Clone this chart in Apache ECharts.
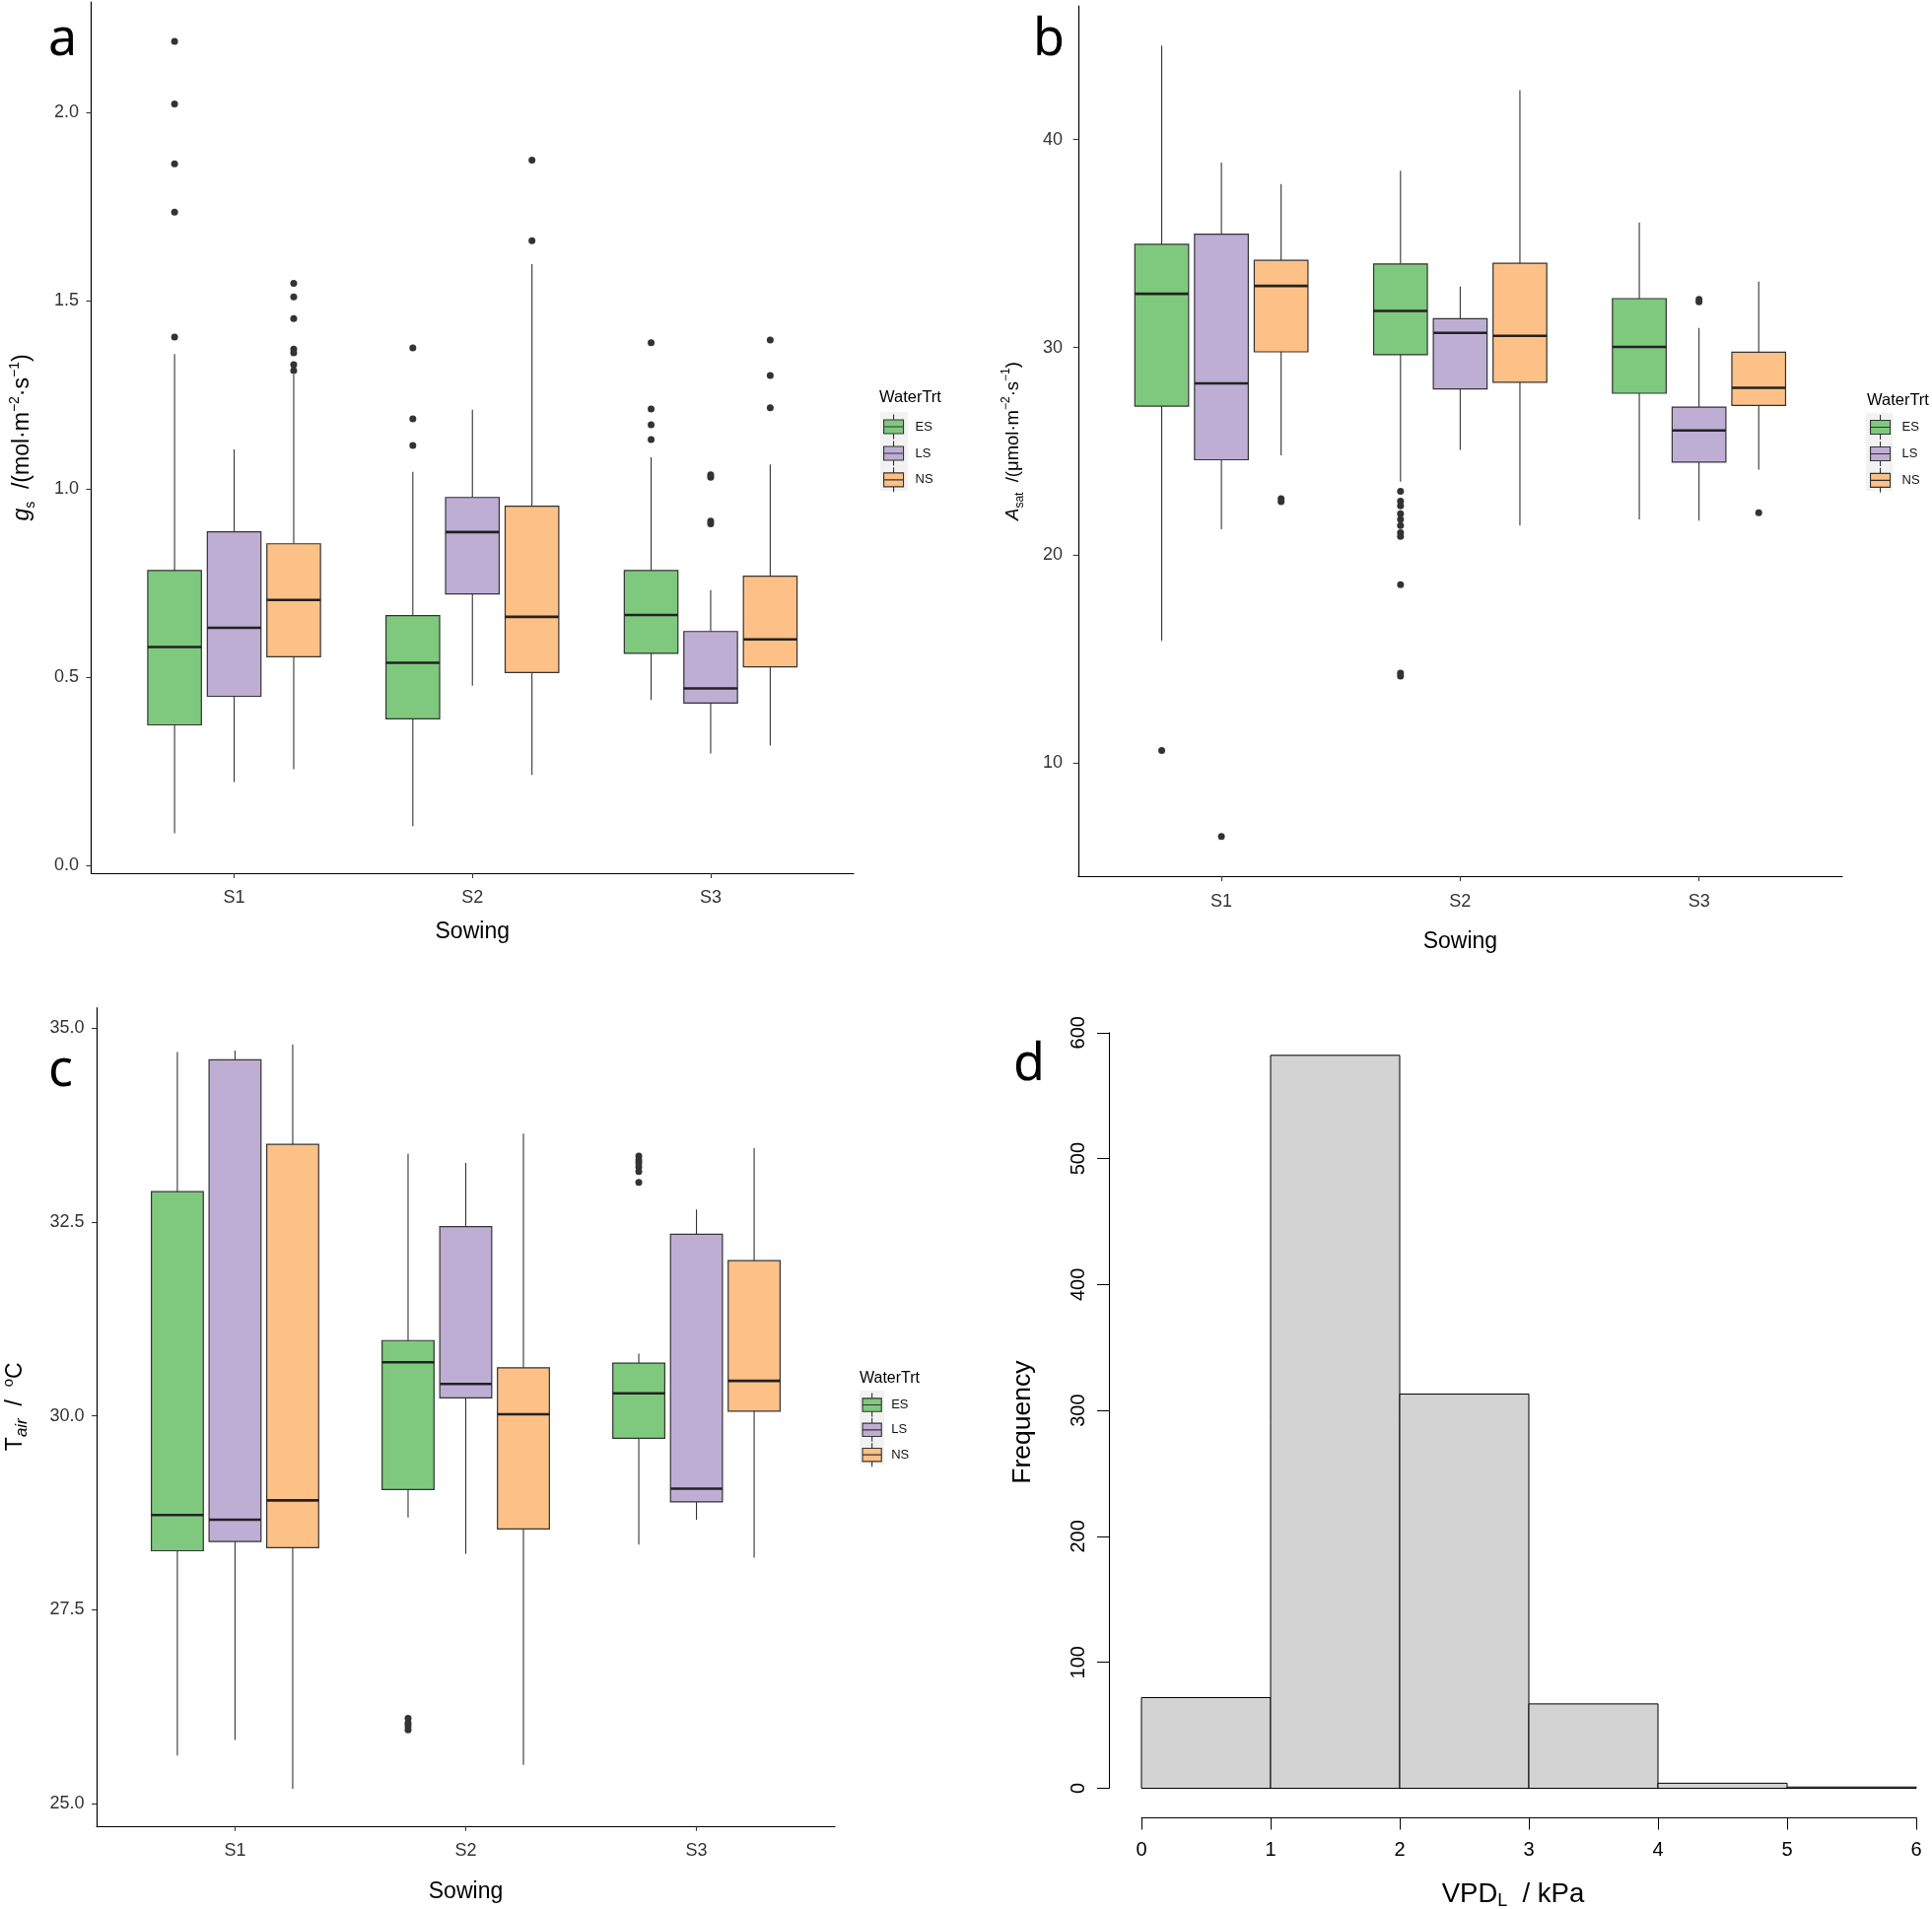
<!DOCTYPE html>
<html><head><meta charset="utf-8">
<script src="https://cdn.jsdelivr.net/npm/echarts@6/dist/echarts.min.js"></script>
<style>html,body{margin:0;padding:0;background:#fff}#c{width:1960px;height:1937px}</style>
</head><body><div id="c"></div>
<script>
// ---------- data ----------
const sowing = ['S1', 'S2', 'S3'];
const waterTrt = ['ES', 'LS', 'NS'];
const trtColors = ['#7FC97F', '#BEAED4', '#FDC086'];

// panel a : g_s  — per sowing [min, q1, median, q3, max]
const gsES = [[0.086, 0.374, 0.581, 0.784, 1.359], [0.105, 0.390, 0.539, 0.664, 1.046], [0.440, 0.564, 0.666, 0.784, 1.085]];
const gsLS = [[0.222, 0.450, 0.632, 0.887, 1.106], [0.478, 0.722, 0.886, 0.978, 1.211], [0.298, 0.432, 0.471, 0.622, 0.732]];
const gsNS = [[0.256, 0.555, 0.706, 0.855, 1.305], [0.241, 0.513, 0.661, 0.955, 1.598], [0.319, 0.528, 0.601, 0.769, 1.066]];
const gsOutES = [[2.189, 2.023, 1.864, 1.736, 1.404], [1.375, 1.187, 1.116], [1.389, 1.213, 1.171, 1.132]];
const gsOutLS = [[], [], [1.038, 1.032, 0.915, 0.908]];
const gsOutNS = [[1.547, 1.511, 1.453, 1.372, 1.362, 1.331, 1.315], [1.874, 1.660], [1.396, 1.302, 1.216]];
const gsTicks = [0, 0.5, 1, 1.5, 2];

// panel b : A_sat
const asatES = [[15.89, 27.18, 32.58, 34.96, 44.52], [23.55, 29.65, 31.76, 34.02, 38.50], [21.73, 27.80, 30.03, 32.35, 36.01]];
const asatLS = [[21.26, 24.60, 28.27, 35.45, 38.89], [25.07, 28.01, 30.70, 31.38, 32.93], [21.67, 24.49, 26.01, 27.13, 30.94]];
const asatNS = [[24.81, 29.79, 32.96, 34.19, 37.86], [21.44, 28.33, 30.56, 34.05, 42.38], [24.13, 27.21, 28.06, 29.77, 33.17]];
const asatOutES = [[10.62], [23.08, 22.61, 22.38, 22.00, 21.73, 21.44, 21.09, 20.91, 18.59, 14.34, 14.19], []];
const asatOutLS = [[6.48], [], [32.32, 32.20]];
const asatOutNS = [[22.73, 22.58], [], [22.05]];
const asatTicks = [10, 20, 30, 40];

// panel c : T_air
const tairES = [[25.62, 28.26, 28.72, 32.89, 34.69], [28.69, 29.05, 30.69, 30.97, 33.38], [28.34, 29.71, 30.29, 30.68, 30.80]];
const tairLS = [[25.82, 28.38, 28.66, 34.59, 34.71], [28.22, 30.23, 30.41, 32.44, 33.26], [28.66, 28.89, 29.06, 32.34, 32.66]];
const tairNS = [[25.19, 28.30, 28.91, 33.50, 34.79], [25.50, 28.54, 30.02, 30.62, 33.64], [28.17, 30.06, 30.45, 32.00, 33.45]];
const tairOutES = [[], [26.10, 26.04, 26.00, 25.95], [33.35, 33.30, 33.26, 33.21, 33.15, 33.01]];
const tairOutLS = [[], [], []];
const tairOutNS = [[], [], []];
const tairTicks = [25, 27.5, 30, 32.5, 35];

// panel d : VPD_L histogram
const vpdEdges = [0, 1, 2, 3, 4, 5, 6];
const vpdCounts = [72, 582, 313, 67, 4, 1];

// ---------- layout / style ----------
const FONT = '"Liberation Sans", Arial, sans-serif';
const DODGE = 0.25, HALF = 0.1125;
const STROKE = '#333';
const LEGEND_ICON = 'path://M10,0L10,5.5M0,5.5L20,5.5L20,19.5L0,19.5ZM0,12.5L20,12.5M10,19.5L10,25';

function boxRender(params, api) {
  const xc = api.value(0) + 1 + (api.value(1) - 1) * DODGE;
  const vMin = api.value(2), q1 = api.value(3), med = api.value(4), q3 = api.value(5), vMax = api.value(6);
  const pTop = api.coord([xc, vMax]), pQ3 = api.coord([xc, q3]);
  const pQ1 = api.coord([xc, q1]), pBot = api.coord([xc, vMin]);
  const tl = api.coord([xc - HALF, q3]), br = api.coord([xc + HALF, q1]);
  const pMed = api.coord([xc, med]);
  return {
    type: 'group', children: [
      {type: 'line', shape: {x1: pTop[0], y1: pTop[1], x2: pQ3[0], y2: pQ3[1]}, style: {stroke: STROKE, lineWidth: 1.1}},
      {type: 'line', shape: {x1: pQ1[0], y1: pQ1[1], x2: pBot[0], y2: pBot[1]}, style: {stroke: STROKE, lineWidth: 1.1}},
      {type: 'rect', shape: {x: tl[0], y: tl[1], width: br[0] - tl[0], height: br[1] - tl[1]},
        style: {fill: api.visual('color'), stroke: STROKE, lineWidth: 1.2}},
      {type: 'line', shape: {x1: tl[0], y1: pMed[1], x2: br[0], y2: pMed[1]}, style: {stroke: '#222', lineWidth: 2.6}}
    ]
  };
}

function boxSeries(gIdx, stats, axisIdx) {
  return {
    type: 'custom', name: waterTrt[gIdx], xAxisIndex: axisIdx, yAxisIndex: axisIdx,
    itemStyle: {color: trtColors[gIdx]},
    data: stats.map((s, i) => [i, gIdx].concat(s)),
    encode: {x: 0, y: 4},
    renderItem: boxRender, z: 2
  };
}

function outlierSeries(outs, axisIdx) {
  const data = [];
  outs.forEach((grp, g) => grp.forEach((vals, i) => vals.forEach(v => data.push([i + 1 + (g - 1) * DODGE, v]))));
  return {
    type: 'scatter', name: 'outliers', xAxisIndex: axisIdx, yAxisIndex: axisIdx,
    symbolSize: 7, itemStyle: {color: STROKE, opacity: 1}, data, z: 3
  };
}

function boxX(gridIndex, labelMargin, nameGap) {
  return {
    type: 'value', gridIndex, min: 0.4, max: 3.6,
    axisLine: {show: true, onZero: false, lineStyle: {color: '#000', width: 1.2}},
    axisTick: {show: true, customValues: [1, 2, 3], length: 5, lineStyle: {color: STROKE, width: 1.1}},
    axisLabel: {customValues: [1, 2, 3], formatter: v => sowing[Math.round(v) - 1],
      fontSize: 18, color: STROKE, fontFamily: FONT, margin: labelMargin},
    splitLine: {show: false},
    name: 'Sowing', nameLocation: 'middle', nameGap,
    nameTextStyle: {fontSize: 23, color: '#000', fontFamily: FONT}
  };
}

function richName(base, sub, sup) {
  return {
    it: {fontStyle: 'italic', fontSize: base, fontFamily: FONT, color: '#000'},
    sub: {fontSize: sub, fontFamily: FONT, color: '#000', verticalAlign: 'bottom', lineHeight: sub},
    subi: {fontSize: sub, fontStyle: 'italic', fontFamily: FONT, color: '#000', verticalAlign: 'bottom', lineHeight: sub},
    sup: {fontSize: sup, fontFamily: FONT, color: '#000', verticalAlign: 'top', lineHeight: sup}
  };
}

function boxY(gridIndex, min, max, ticks, fmt, labelMargin, name, nameGap, nameSize, lineH, rich, pad) {
  return {
    type: 'value', gridIndex, min, max,
    axisLine: {show: true, onZero: false, lineStyle: {color: '#000', width: 1.2}},
    axisTick: {show: true, customValues: ticks, length: 5, lineStyle: {color: STROKE, width: 1.1}},
    axisLabel: {customValues: ticks, formatter: fmt, fontSize: 18, color: STROKE, fontFamily: FONT, margin: labelMargin},
    splitLine: {show: false},
    name, nameLocation: 'middle', nameGap, nameRotate: 90,
    nameTextStyle: {fontSize: nameSize, color: '#000', fontFamily: FONT, lineHeight: lineH, rich, padding: pad || 0}
  };
}

function legendAt(left, top, itemHeight, itemGap, padLeft) {
  return {
    orient: 'vertical', left, top, padding: 0, itemWidth: 20, itemHeight, itemGap,
    icon: LEGEND_ICON, data: waterTrt,
    itemStyle: {borderColor: STROKE, borderWidth: 1.1},
    textStyle: {fontSize: 13, color: '#111', fontFamily: FONT, padding: [0, 0, 0, padLeft]},
    selectedMode: false
  };
}

function txt(text, x, y, size, family) {
  return {type: 'text', x, y, z: 10, style: {text, fill: '#000', font: size + 'px ' + family,
    align: 'left', verticalAlign: 'middle', textAlign: 'left', textVerticalAlign: 'middle'}};
}
function bgRect(x, y, w, h) {
  return {type: 'rect', shape: {x, y, width: w, height: h}, style: {fill: '#F2F2F2'}, z: -1};
}

// ---------- chart ----------
const chart = echarts.init(document.getElementById('c'), null, {renderer: 'canvas'});

const histData = vpdCounts.map((c, i) => [vpdEdges[i], vpdEdges[i + 1], c]);
const G = {containLabel: false, outerBoundsMode: 'none'};

const option = {
  animation: false,
  backgroundColor: '#fff',
  grid: [
    Object.assign({left: 92.5, top: 2, width: 773.5, height: 884}, G),
    Object.assign({left: 1093.75, top: 6, width: 775.25, height: 883}, G),
    Object.assign({left: 98, top: 1022.7, width: 749, height: 830.1}, G),
    Object.assign({left: 1158, top: 1047.8, width: 786, height: 766.7}, G)
  ],
  xAxis: [
    boxX(0, 16.5, 48.5),
    boxX(1, 17, 55.5),
    boxX(2, 16, 55.5),
    {
      type: 'value', gridIndex: 3, min: 0, max: 6, interval: 1, offset: 30,
      axisLine: {show: true, onZero: false, lineStyle: {color: '#000', width: 1}},
      axisTick: {show: true, length: 12, lineStyle: {color: '#000', width: 1}},
      axisLabel: {fontSize: 20, color: '#000', fontFamily: FONT, margin: 23},
      splitLine: {show: false},
      name: 'VPD{sub|L}  / kPa', nameLocation: 'middle', nameGap: 62,
      nameTextStyle: {fontSize: 27.5, color: '#000', fontFamily: FONT, lineHeight: 32, padding: [0, 32, 0, 0],
        rich: {sub: {fontSize: 18, fontFamily: FONT, color: '#000', verticalAlign: 'bottom', lineHeight: 17}}}
    }
  ],
  yAxis: [
    boxY(0, -0.0199, 2.294, gsTicks, v => v.toFixed(1), 12.5,
      '{it|g}{sub|s}  /(mol·m{sup|−2}·s{sup|−1})', 54.5, 23, 30, richName(23, 14, 14)),
    boxY(1, 4.57, 46.43, asatTicks, v => String(v), 15.7,
      '{it|A}{sub|sat}  /(μmol·m{sup|−2}·s{sup|−1})', 53, 18.5, 26, richName(18.5, 12, 12)),
    boxY(2, 24.71, 35.26, tairTicks, v => v.toFixed(1), 12.4,
      'T{subi|air}  /  {sup|o}C', 67, 23, 30, richName(23, 17, 15), [0, 0, 0, 21]),
    {
      type: 'value', gridIndex: 3, min: 0, max: 600, interval: 100, offset: 33,
      axisLine: {show: true, onZero: false, lineStyle: {color: '#000', width: 1}},
      axisTick: {show: true, length: 12, lineStyle: {color: '#000', width: 1}},
      axisLabel: {fontSize: 20, color: '#000', fontFamily: FONT, margin: 21, rotate: 90},
      splitLine: {show: false},
      name: 'Frequency', nameLocation: 'middle', nameGap: 73.5, nameRotate: 90,
      nameTextStyle: {fontSize: 26.5, color: '#000', fontFamily: FONT, padding: [0, 24, 0, 0]}
    }
  ],
  legend: [
    legendAt(896, 420, 25, 0.8, 7),
    legendAt(1897, 420.5, 25, 0.8, 7),
    legendAt(874.5, 1413, 24, 0.2, 4.5)
  ],
  graphic: [
    bgRect(893, 418, 28, 80),
    bgRect(1893, 419, 27, 79),
    bgRect(872, 1411, 25, 75),
    txt('WaterTrt', 892, 403, 16.5, FONT),
    txt('WaterTrt', 1894, 406, 16.5, FONT),
    txt('WaterTrt', 872, 1399, 16, FONT),
    txt('a', 49, 41, 52, '"Noto Sans", sans-serif'),
    txt('b', 1048, 41, 52, '"Noto Sans", sans-serif'),
    txt('c', 49, 1087, 52, '"Noto Sans", sans-serif'),
    txt('d', 1028, 1081, 52, '"Noto Sans", sans-serif')
  ],
  series: [
    boxSeries(0, gsES, 0), boxSeries(1, gsLS, 0), boxSeries(2, gsNS, 0),
    outlierSeries([gsOutES, gsOutLS, gsOutNS], 0),
    boxSeries(0, asatES, 1), boxSeries(1, asatLS, 1), boxSeries(2, asatNS, 1),
    outlierSeries([asatOutES, asatOutLS, asatOutNS], 1),
    boxSeries(0, tairES, 2), boxSeries(1, tairLS, 2), boxSeries(2, tairNS, 2),
    outlierSeries([tairOutES, tairOutLS, tairOutNS], 2),
    {
      type: 'custom', name: 'VPD', xAxisIndex: 3, yAxisIndex: 3,
      data: histData, encode: {x: [0, 1], y: 2},
      renderItem: function (params, api) {
        const p0 = api.coord([api.value(0), api.value(2)]);
        const p1 = api.coord([api.value(1), 0]);
        return {type: 'rect', shape: {x: p0[0], y: p0[1], width: p1[0] - p0[0], height: p1[1] - p0[1]},
          style: {fill: '#D3D3D3', stroke: '#000', lineWidth: 1}};
      }
    }
  ]
};
chart.setOption(option);
</script>
</body></html>
